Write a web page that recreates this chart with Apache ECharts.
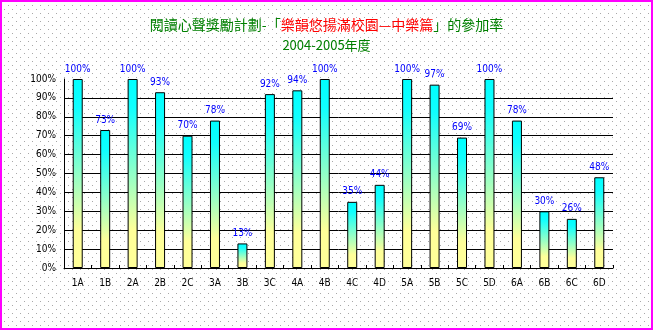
<!DOCTYPE html>
<html>
<head>
<meta charset="utf-8">
<script src="https://cdn.jsdelivr.net/npm/echarts@6/dist/echarts.min.js"></script>
<style>
html,body{margin:0;padding:0;background:#fff;}
#chart{width:653px;height:330px;}
</style>
</head>
<body>
<div id="chart"></div>
<script>
const categories = ['1A','1B','2A','2B','2C','3A','3B','3C','4A','4B','4C','4D','5A','5B','5C','5D','6A','6B','6C','6D'];
const rates = [100,73,100,93,70,78,13,92,94,100,35,44,100,97,69,100,78,30,26,48];
const yTicks = [0,10,20,30,40,50,60,70,80,90,100];

// dotted background pattern
const pc = document.createElement('canvas');
pc.width = 8; pc.height = 8;
const pctx = pc.getContext('2d');
pctx.fillStyle = '#a8a8a8';
pctx.fillRect(0,5,1,1);
pctx.fillRect(4,1,1,1);
document.getElementById('chart').style.backgroundImage = 'url(' + pc.toDataURL() + ')';

const narrow = "'Liberation Sans Narrow','DejaVu Sans Condensed','Liberation Sans',sans-serif";
const cjk = "'Noto Sans CJK TC','Noto Sans CJK SC',sans-serif";

const chart = echarts.init(document.getElementById('chart'), null, {renderer:'canvas'});
const gridColors = yTicks.map((v,i)=> i === yTicks.length-1 ? 'rgba(0,0,0,0)' : '#000');

chart.setOption({
  backgroundColor: 'transparent',
  animation: false,
  title: [
    {
      text: '{g|閱讀心聲獎勵計劃-「}{r|樂韻悠揚滿校園—中樂篇}{g|」的參加率}',
      left: 'center', top: 18, padding: 0,
      textStyle: {
        fontFamily: cjk, fontSize: 14, fontWeight: 'normal',
        rich: {
          g: {color:'#008000', fontFamily: cjk, fontSize: 14},
          r: {color:'#ff0000', fontFamily: cjk, fontSize: 14}
        }
      }
    },
    {
      text: '2004-2005年度',
      left: 'center', top: 39, padding: 0,
      textStyle: {fontFamily: cjk, fontSize: 13, fontWeight:'normal', color:'#008000'}
    }
  ],
  grid: {left: 64, right: 40, top: 79, bottom: 62, containLabel: false},
  xAxis: {
    type: 'category',
    data: categories,
    axisLine: {lineStyle: {color:'#000', width:1}},
    axisTick: {show: true, inside: true, length: 3, lineStyle:{color:'#000'}},
    axisLabel: {color:'#000', fontFamily: narrow, fontSize: 10, margin: 10}
  },
  yAxis: {
    type: 'value',
    min: 0, max: 100, interval: 10,
    axisLine: {show: true, lineStyle: {color:'#000', width:1}},
    axisTick: {show: false},
    axisLabel: {color:'#000', fontFamily: narrow, fontSize: 10, margin: 8, formatter: '{value}%'},
    splitLine: {show: true, lineStyle: {color: gridColors, width: 1}}
  },
  series: [{
    type: 'bar',
    data: rates,
    barWidth: 10,
    itemStyle: {
      borderColor: '#000', borderWidth: 1,
      color: new echarts.graphic.LinearGradient(0,0,0,1,[
        {offset:0, color:'#00ffff'},
        {offset:0.15, color:'#10ffff'},
        {offset:0.8, color:'#ffff99'},
        {offset:1, color:'#ffff99'}
      ])
    },
    label: {
      show: true, position: 'top', distance: 5,
      color: '#0000ff', fontFamily: narrow, fontSize: 10,
      formatter: '{c}%'
    }
  }],
  graphic: [{
    type: 'rect',
    shape: {x:1, y:1, width:651, height:328},
    style: {fill: 'none', stroke: '#ff00ff', lineWidth: 2},
    silent: true, z: 100
  }]
});
</script>
</body>
</html>
